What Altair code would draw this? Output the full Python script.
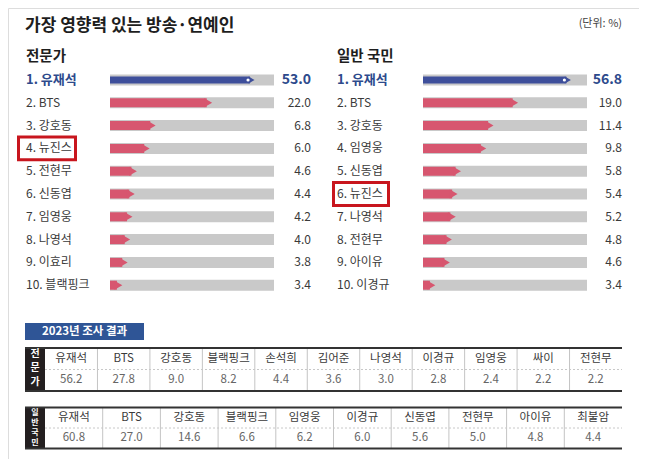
import altair as alt
import pandas as pd

FONT = "Noto Sans CJK KR"

title_text = "가장 영향력 있는 방송·연예인"
unit_text = "(단위: %)"
expert_title = "전문가"
public_title = "일반 국민"
table_title = "2023년 조사 결과"

expert_names = ["유재석", "BTS", "강호동", "뉴진스", "전현무", "신동엽", "임영웅", "나영석", "이효리", "블랙핑크"]
expert_values = [53.0, 22.0, 6.8, 6.0, 4.6, 4.4, 4.2, 4.0, 3.8, 3.4]
public_names = ["유재석", "BTS", "강호동", "임영웅", "신동엽", "뉴진스", "나영석", "전현무", "아이유", "이경규"]
public_values = [56.8, 19.0, 11.4, 9.8, 5.8, 5.4, 5.2, 4.8, 4.6, 3.4]
highlight_name = "뉴진스"

y2023_expert_names = ["유재석", "BTS", "강호동", "블랙핑크", "손석희", "김어준", "나영석", "이경규", "임영웅", "싸이", "전현무"]
y2023_expert_values = [56.2, 27.8, 9.0, 8.2, 4.4, 3.6, 3.0, 2.8, 2.4, 2.2, 2.2]
y2023_public_names = ["유재석", "BTS", "강호동", "블랙핑크", "임영웅", "이경규", "신동엽", "전현무", "아이유", "최불암"]
y2023_public_values = [60.8, 27.0, 14.6, 6.6, 6.2, 6.0, 5.6, 5.0, 4.8, 4.4]
y2023_expert_side = "전\n문\n가"
y2023_public_side = "일\n반\n국\n민"

# layout / style
LOG_MIN, LOG_MAX = 2.6, 78.6
ROW_TOP, ROW_BOTTOM = 60.6, 288.6
TABLE_X0, TABLE_X1 = 37, 614
BLACK_W = 20
NAVY = "#3e4f9b"
LABEL_BLUE = "#2d4a8c"
PINK = "#d7566f"
TRACK = "#c9c9c9"
TEXT = "#3a3a3a"
RED = "#c8161e"
DARK = "#231f20"
BOX_BLUE = "#2f5596"


def text_layer(txt, x, y, size, weight="normal", color="#222", align="left"):
    return alt.Chart(pd.DataFrame({"t": [txt]})).mark_text(
        align=align, baseline="middle", font=FONT, fontSize=size, fontWeight=weight, color=color
    ).encode(x=alt.value(x), y=alt.value(y), text="t:N")


def panel(names, values, bar_range, label_x, value_x, box_x, box_x2):
    df = pd.DataFrame({"rank": list(range(1, len(names) + 1)), "name": names, "value": values})
    df["label"] = [f"{r}. {n}" for r, n in zip(df["rank"], df["name"])]
    ys = alt.Scale(domain=list(df["label"]), range=[ROW_TOP, ROW_BOTTOM], paddingInner=0, paddingOuter=0)
    xs = alt.Scale(type="log", domain=[LOG_MIN, LOG_MAX], range=list(bar_range))
    Y = alt.Y("label:N", scale=ys, axis=None)
    XV = alt.X("value:Q", scale=xs, axis=None)
    base = alt.Chart(df).transform_calculate(lo=str(LOG_MIN), hi=str(LOG_MAX))
    top = base.transform_filter("datum.rank == 1")
    rest = base.transform_filter("datum.rank > 1")

    track = base.mark_bar(size=11, color=TRACK).encode(
        x=alt.X("hi:Q", scale=xs, axis=None), x2="lo:Q", y=Y)
    bar_rest = rest.mark_bar(size=9, color=PINK, xOffset=-6).encode(x=XV, x2="lo:Q", y=Y)
    tip_rest = rest.mark_point(shape="triangle-right", filled=True, size=81, color=PINK,
                               opacity=1, xOffset=-4.5).encode(x=XV, y=Y)
    bar_top = top.mark_bar(size=7, color=NAVY, xOffset=-5).encode(x=XV, x2="lo:Q", y=Y)
    tip_top = top.mark_point(shape="triangle-right", filled=True, size=49, color=NAVY,
                             opacity=1, xOffset=-3.5).encode(x=XV, y=Y)
    dot_top = top.mark_point(shape="circle", filled=True, fill="white", stroke=NAVY,
                             strokeWidth=1.5, size=22, opacity=1, xOffset=-7).encode(x=XV, y=Y)

    lab_rest = rest.mark_text(align="left", baseline="middle", font=FONT, fontSize=12,
                              color=TEXT).encode(x=alt.value(label_x), y=Y, text="label:N")
    lab_top = top.mark_text(align="left", baseline="middle", font=FONT, fontSize=13,
                            fontWeight="bold", color=LABEL_BLUE).encode(x=alt.value(label_x), y=Y, text="label:N")
    val_rest = rest.mark_text(align="right", baseline="middle", font=FONT, fontSize=12,
                              color=TEXT).encode(x=alt.value(value_x), y=Y,
                                                 text=alt.Text("value:Q", format=".1f"))
    val_top = top.mark_text(align="right", baseline="middle", font=FONT, fontSize=14,
                            fontWeight="bold", color=LABEL_BLUE).encode(x=alt.value(value_x), y=Y,
                                                                        text=alt.Text("value:Q", format=".1f"))
    box = base.transform_filter(f"datum.name == '{highlight_name}'").mark_rect(
        fill="transparent", stroke=RED, strokeWidth=3).encode(
        x=alt.value(box_x), x2=alt.value(box_x2), y=Y)
    return alt.layer(track, bar_rest, tip_rest, bar_top, tip_top, dot_top,
                     lab_rest, lab_top, val_rest, val_top, box)


def table(names, values, side_text, y_range, side_size, side_lh, side_dy):
    n = len(names)
    df = pd.DataFrame({"col": list(range(n)), "name": names, "value": values})
    step = (TABLE_X1 - TABLE_X0) / n
    x_left = -BLACK_W / step
    xs = alt.Scale(domain=[0, n], range=[TABLE_X0, TABLE_X1], zero=False, nice=False)
    ys = alt.Scale(domain=[0, 2], range=list(y_range), zero=False, nice=False)
    base = alt.Chart(df).transform_calculate(
        xc="datum.col + 0.5", x_start="0", x_end=str(n), x_left=str(x_left),
        x_side=str(x_left / 2), y_top="0", y_mid="1", y_bot="2", y_name="0.5", y_val="1.5")
    first = base.transform_filter("datum.col == 0")

    def X(f):
        return alt.X(f, scale=xs, axis=None)

    def Yf(f):
        return alt.Y(f, scale=ys, axis=None)

    black = first.mark_rect(color=DARK).encode(x=X("x_left:Q"), x2="x_start:Q", y=Yf("y_top:Q"), y2="y_bot:Q")
    side = first.mark_text(text=side_text, lineBreak="\n", lineHeight=side_lh, font=FONT,
                           fontSize=side_size, fontWeight="bold", color="white",
                           baseline="top", align="center", dy=side_dy).encode(
        x=X("x_side:Q"), y=Yf("y_top:Q"))
    seps = base.transform_filter("datum.col > 0").mark_rule(color="#c4c4c4", strokeWidth=1).encode(
        x=X("col:Q"), y=Yf("y_top:Q"), y2="y_bot:Q")
    mid = first.mark_rule(color="#c8c8c8", strokeWidth=1, strokeDash=[2, 2]).encode(
        x=X("x_start:Q"), x2="x_end:Q", y=Yf("y_mid:Q"))
    top_b = first.mark_rule(color="#333333", strokeWidth=2).encode(
        x=X("x_left:Q"), x2="x_end:Q", y=Yf("y_top:Q"))
    bot_b = first.mark_rule(color="#333333", strokeWidth=2).encode(
        x=X("x_left:Q"), x2="x_end:Q", y=Yf("y_bot:Q"))
    names_t = base.mark_text(font=FONT, fontSize=11.5, color=TEXT, baseline="middle").encode(
        x=X("xc:Q"), y=Yf("y_name:Q"), text="name:N")
    vals_t = base.mark_text(font=FONT, fontSize=11.5, color="#666666", baseline="middle").encode(
        x=X("xc:Q"), y=Yf("y_val:Q"), text=alt.Text("value:Q", format=".1f"))
    return alt.layer(black, seps, mid, top_b, bot_b, side, names_t, vals_t)


header_title = text_layer(title_text, 17, 17.5, 17, "bold", "#1e1e1e")
header_unit = text_layer(unit_text, 614, 16, 11, "normal", "#444444", "right")
left_t = text_layer(expert_title, 18, 48.5, 14.5, "bold", "#1e1e1e")
right_t = text_layer(public_title, 329, 48.5, 14.5, "bold", "#1e1e1e")

box_df = pd.DataFrame({"t": [table_title]})
label_box = alt.Chart(box_df).mark_rect(color=BOX_BLUE).encode(
    x=alt.value(17), x2=alt.value(136), y=alt.value(315), y2=alt.value(332))
label_txt = alt.Chart(box_df).mark_text(font=FONT, fontSize=11.5, fontWeight="bold", color="white",
                                         baseline="middle").encode(
    x=alt.value(76.5), y=alt.value(323.5), text="t:N")

left_panel = panel(expert_names, expert_values, (102, 266), 18, 303, 10.5, 67.5)
right_panel = panel(public_names, public_values, (415, 579), 329, 614, 325.5, 380.5)
table1 = table(y2023_expert_names, y2023_expert_values, y2023_expert_side, (340, 383), 10, 14, 1)
table2 = table(y2023_public_names, y2023_public_values, y2023_public_side, (399.5, 440.5), 8, 10, 1)

chart = alt.layer(
    header_title, header_unit, left_t, right_t,
    left_panel, right_panel, label_box, label_txt, table1, table2
).resolve_scale(x="independent", y="independent").properties(
    width=631, height=451, padding=0, autosize=alt.AutoSizeParams(type="none"),
    background="white"
).configure_view(strokeWidth=0).configure(font=FONT)

chart.save("out.html", embed_options={"renderer": "svg", "actions": False})
